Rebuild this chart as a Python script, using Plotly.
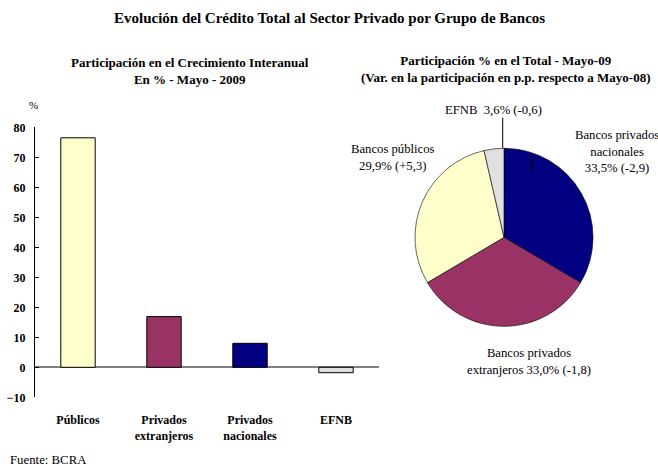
import plotly.graph_objects as go

W, H = 658, 466

# ---- data ----
bar_categories = ["Públicos", "Privados<br>extranjeros", "Privados<br>nacionales", "EFNB"]
bar_values = [76.5, 16.9, 8.0, -1.8]
bar_colors = ["#FFFFCC", "#993366", "#000080", "#E0E0E0"]

pie_labels = ["Bancos privados nacionales", "Bancos privados extranjeros", "Bancos públicos", "EFNB"]
pie_values = [33.5, 33.0, 29.9, 3.6]
pie_colors = ["#000080", "#993366", "#FFFFCC", "#E0E0E0"]
pie_texts = [
    "Bancos privados<br>nacionales<br>33,5% (-2,9)",
    "Bancos privados<br>extranjeros 33,0% (-1,8)",
    "Bancos públicos<br>29,9% (+5,3)",
    "EFNB  3,6% (-0,6)",
]

y_ticks = [-10, 0, 10, 20, 30, 40, 50, 60, 70, 80]

FONT = "Liberation Serif"


def px(x):
    return x / W


def py(y):
    return 1 - y / H


fig = go.Figure()

fig.add_trace(go.Bar(
    x=bar_categories, y=bar_values,
    marker=dict(color=bar_colors, line=dict(color="#000000", width=1)),
    width=0.4, xaxis="x", yaxis="y", showlegend=False,
))

fig.add_trace(go.Pie(
    labels=pie_labels, values=pie_values, sort=False, direction="clockwise", rotation=0,
    marker=dict(colors=pie_colors, line=dict(color="#000000", width=0.6)),
    textinfo="none", hoverinfo="label+value", showlegend=False,
    domain=dict(x=[px(504 - 89), px(504 + 89)], y=[py(237.3 + 89), py(237.3 - 89)]),
))

fig.update_layout(
    template="none",
    width=W, height=H, margin=dict(l=0, r=0, t=0, b=0, autoexpand=False),
    paper_bgcolor="white", plot_bgcolor="white",
    font=dict(family=FONT, color="#000000"),
    xaxis=dict(domain=[px(35), px(379)], range=[-0.5, 3.5], showline=False, ticks="",
               showgrid=False, zeroline=False, tickfont=dict(size=12, weight="bold"),
               ticklabelstandoff=14, automargin=False),
    yaxis=dict(domain=[py(397.3), py(127.3)], range=[-10, 80], tickvals=y_ticks,
               showline=True, linecolor="#000000", linewidth=1, ticks="inside", ticklen=4,
               tickcolor="#000000", showgrid=False, zeroline=True, zerolinecolor="#808080",
               zerolinewidth=2, tickfont=dict(size=12, weight="bold"), ticklabelstandoff=6,
               automargin=False),
    bargap=0.6,
)

ann = []
ann.append(dict(x=px(329), y=py(18), text="Evolución del Crédito Total al Sector Privado por Grupo de Bancos",
                font=dict(size=15, weight="bold")))
ann.append(dict(x=px(190), y=py(71.5), text="Participación en el Crecimiento Interanual<br>En % - Mayo - 2009",
                font=dict(size=13, weight="bold")))
ann.append(dict(x=px(505), y=py(69.5), text="Participación % en el Total - Mayo-09<br>(Var. en la participación en p.p. respecto a Mayo-08)",
                font=dict(size=13, weight="bold")))
ann.append(dict(x=px(33), y=py(105), text="%", font=dict(size=11)))
ann.append(dict(x=px(8), y=py(460), text="Fuente: BCRA", font=dict(size=12.8), xanchor="left"))

# pie labels
ann.append(dict(x=px(617), y=py(152), text=pie_texts[0], font=dict(size=12.7)))
ann.append(dict(x=px(529), y=py(361), text=pie_texts[1], font=dict(size=12.7)))
ann.append(dict(x=px(393), y=py(157), text=pie_texts[2], font=dict(size=12.7)))
ann.append(dict(x=px(493), y=py(110), text=pie_texts[3], font=dict(size=12.7)))

for a in ann:
    a.setdefault("xanchor", "center")
    a.update(xref="paper", yref="paper", showarrow=False, yanchor="middle")
fig.update_layout(annotations=ann)

fig.update_layout(shapes=[
    dict(type="line", xref="paper", yref="paper", x0=px(502.7), x1=px(502.7), y0=py(117.7), y1=py(148),
         line=dict(color="#000000", width=1)),
    dict(type="line", xref="paper", yref="paper", x0=px(531.7), x1=px(531.7), y0=py(153), y1=py(172),
         line=dict(color="#000000", width=1)),
])

fig.write_html("out.html", config={"displayModeBar": False},
               post_script="document.body.style.margin='0';")
